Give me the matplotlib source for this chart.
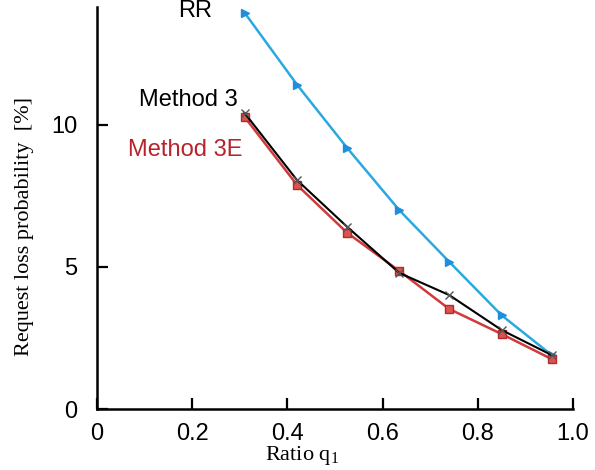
import matplotlib
matplotlib.use("Agg")
import matplotlib.pyplot as plt

# Data
ratio_q1 = [0.31, 0.42, 0.525, 0.635, 0.74, 0.85, 0.955]
loss_rr = [13.95, 11.42, 9.2, 7.0, 5.18, 3.3, 1.9]
loss_m3 = [10.42, 8.06, 6.42, 4.79, 4.01, 2.78, 1.9]
loss_m3e = [10.28, 7.89, 6.21, 4.86, 3.52, 2.64, 1.76]

xticks = [0, 0.2, 0.4, 0.6, 0.8, 1.0]
xtick_labels = ["0", "0.2", "0.4", "0.6", "0.8", "1.0"]
yticks = [0, 5, 10]

plt.rcParams['font.family'] = ['Liberation Sans', 'DejaVu Sans']

fig = plt.figure(figsize=(5.95, 4.70), dpi=100)
ax = fig.add_axes([97 / 595, 61 / 470, 476 / 595, 402 / 470])

ax.plot(ratio_q1, loss_rr, color='#2aa9e0', lw=1.8, marker='>', ms=6,
        mfc='#1f8fdc', mec='#1f8fdc', clip_on=False, zorder=3)
ax.plot(ratio_q1, loss_m3e, color='#d03a3a', lw=1.8, marker='s', ms=6,
        mfc='#d9534f', mec='#b52a2a', clip_on=False, zorder=3)
ax.plot(ratio_q1, loss_m3, color='black', lw=1.5, marker='x', ms=6,
        mec='#555555', mew=1.0, clip_on=False, zorder=4)

ax.text(0.206, 14.0, "RR", fontsize=17, ha='center', va='center')
ax.text(0.192, 10.88, "Method 3", fontsize=17, ha='center', va='center')
ax.text(0.185, 9.12, "Method 3E", fontsize=17, ha='center', va='center',
        color='#b8232b')

ax.set_xlim(0, 1.0)
ax.set_ylim(0, 14.15)
ax.set_xticks(xticks)
ax.set_xticklabels(xtick_labels)
ax.set_yticks(yticks)

for side in ['top', 'right']:
    ax.spines[side].set_visible(False)
for side in ['left', 'bottom']:
    ax.spines[side].set_linewidth(1.8)

ax.tick_params(axis='both', direction='in', length=8, width=1.6,
               labelsize=17)
ax.tick_params(axis='y', pad=14)
ax.tick_params(axis='x', pad=10)

ax.set_xlabel("Ratio q$_\\mathregular{1}$", family='Liberation Serif',
              fontsize=16)
ax.xaxis.set_label_coords(0.43, -0.088)
ax.set_ylabel("Request loss probability  [%]", family='Liberation Serif',
              fontsize=16)
ax.yaxis.set_label_coords(-0.133, 0.455)

fig.savefig("out.png", dpi=100)
